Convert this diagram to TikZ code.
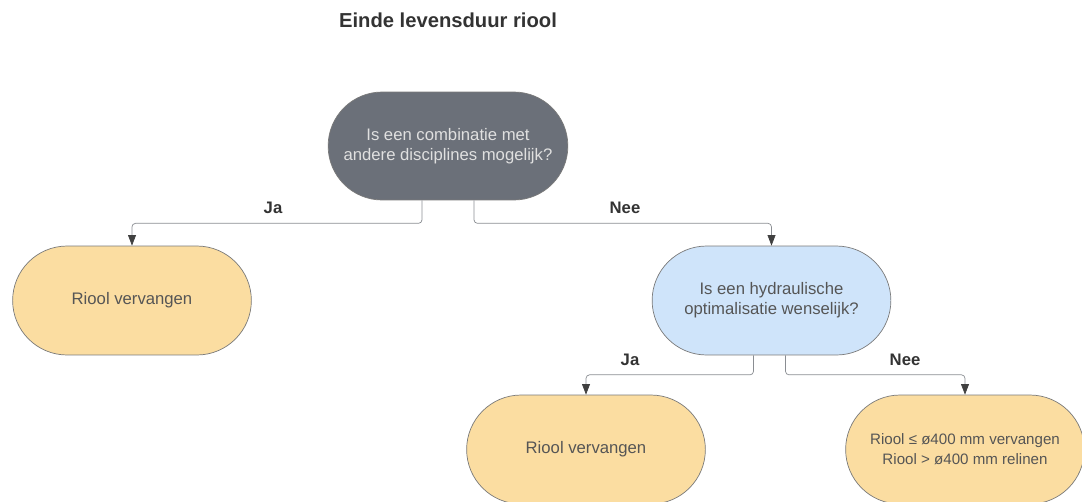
\documentclass[tikz,border=0pt]{standalone}
\usepackage{fontspec}
\setmainfont{Liberation Sans}
\usetikzlibrary{shapes.misc, arrows.meta}

\definecolor{lijngrijs}{HTML}{8A8D92}
\definecolor{randgrijs}{HTML}{7A7A7A}
\definecolor{donkergrijs}{HTML}{6B7079}
\definecolor{geel}{HTML}{FBDDA1}
\definecolor{lichtblauw}{HTML}{CFE4FA}
\definecolor{tekstgrijs}{HTML}{555555}

\tikzset{
    stadium/.style = {rounded rectangle,
        draw=randgrijs,
        minimum width=5.01cm,
        minimum height=2.18cm,
        align=center,
        text=tekstgrijs,
        font=\fontsize{9.5}{11.4}\selectfont},
    vraag/.style = {stadium, fill=lichtblauw},
    actie/.style = {stadium, fill=geel},
    keuze/.style = {font=\fontsize{9.5}{11}\selectfont\bfseries, text=black!80},
    pijl/.style = {draw=lijngrijs, rounded corners=2pt,
        -{Stealth[length=6pt, width=4.5pt, inset=0pt, fill=black!75, color=black!75]}}
}

\begin{document}
\begin{tikzpicture}[x=0.02cm, y=-0.02cm]

            \useasboundingbox (0,0) rectangle (1082,501);

            % Titel
            \node (titel) at (448,20)
                [font=\fontsize{11.5}{13}\selectfont\bfseries, text=black!80]
                {Einde levensduur riool};

            % Vraag 1
            \node (combi) at (448,146) [vraag,
                fill=donkergrijs,
                minimum width=5.03cm,
                minimum height=2.16cm,
                text=black!12] {Is een combinatie met\\andere disciplines mogelijk?};

            % Uitkomst ja
            \node (vervangenA) at (132,300.5) [actie] {Riool vervangen};

            % Vraag 2
            \node (hydro) at (771.5,300.5) [vraag] {Is een hydraulische\\optimalisatie wenselijk?};

            % Uitkomsten vraag 2
            \node (vervangenB) at (586,449.5) [actie] {Riool vervangen};
            \node (relinen) at (965,449.5) [actie, font=\fontsize{8.6}{11.4}\selectfont]
                {Riool ≤ ø400 mm vervangen\\Riool > ø400 mm relinen};

            % Labels
            \node (ja1)  at (273,208) [keuze] {Ja};
            \node (nee1) at (625,208) [keuze] {Nee};
            \node (ja2)  at (630,360) [keuze] {Ja};
            \node (nee2) at (905,360) [keuze] {Nee};

            % Pijlen
            \draw [pijl] ([xshift=-0.52cm]combi.south) -- ++(0,23) -| (vervangenA.north);
            \draw [pijl] ([xshift=0.52cm]combi.south)  -- ++(0,23) -| (hydro.north);
            \draw [pijl] ([xshift=-0.36cm]hydro.south) -- ++(0,19.5) -| (vervangenB.north);
            \draw [pijl] ([xshift=0.28cm]hydro.south)  -- ++(0,19.5) -| (relinen.north);
        \end{tikzpicture}
\end{document}
